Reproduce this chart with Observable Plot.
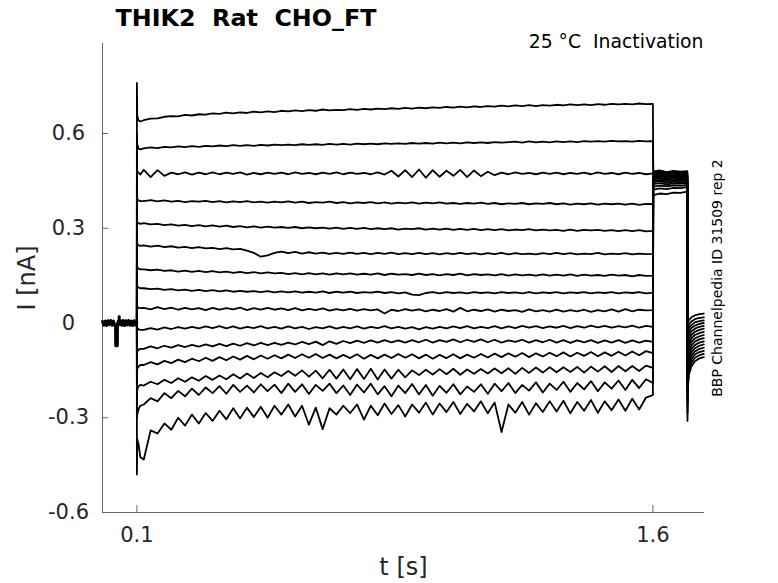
<!DOCTYPE html>
<html><head><meta charset="utf-8">
<script src="https://cdn.jsdelivr.net/npm/d3@7"></script>
<script src="https://cdn.jsdelivr.net/npm/@observablehq/plot@0.6"></script>
<style>
body{margin:0;background:#fff;}
svg text{white-space:pre;}
</style></head><body><div id="chart"></div>
<script>
// ---- data (time in ms, current in pA) ----
const titleText = "THIK2  Rat  CHO_FT";
const subtitleText = "25 °C  Inactivation";
const noteText = "BBP Channelpedia ID 31509 rep 2";
const xLabel = "t [s]";
const yLabel = "I [nA]";
const xTicks = [0.1, 1.6];
const yTicks = [-0.6, -0.3, 0, 0.3, 0.6];
const xDomain = [0, 1.75];
const yDomain = [-0.6, 0.885];

const holdT = [0,4,8,12,16,20,24,28,32,36,38,38.5,43,43.5,46,48,48.5,49.5,52,56,60,64,68,72,76,80,84,88,92,96,99.8];
const holdI = [5,-7,6,-8,7,-5,8,-7,6,-9,-5,-72,-72,-6,6,-4,20,-5,7,-7,8,-8,7,-6,8,-7,6,-8,7,-6,0];

const onsetT = [100, 101, 105, 110];
const onsetI = [
  [760, 655, 641, 638],
  [600, 565, 552, 550],
  [520, 480, 476, 470],
  [420, 392, 388, 386],
  [340, 318, 316, 314],
  [270, 250, 246, 244],
  [200, 176, 172, 170],
  [140, 116, 112, 110],
  [70, 52, 48, 47],
  [-30, -15, -20, -22],
  [-100, -90, -85, -82],
  [-160, -145, -138, -133],
  [-240, -210, -200, -196],
  [-300, -290, -272, -262],
  [-480, -368, -385, -425]
];

const stepT = [120,140,160,180,200,220,240,260,280,300,
  320,340,360,380,400,420,440,460,480,500,
  520,540,560,580,600,620,640,660,680,700,
  720,740,760,780,800,820,840,860,880,900,
  920,940,960,980,1000,1020,1040,1060,1080,1100,
  1120,1140,1160,1180,1200,1220,1240,1260,1280,1300,
  1320,1340,1360,1380,1400,1420,1440,1460,1480,1500,
  1520,1540,1560,1580,1600];

const stepI = [
  [642,647,648,653,655,654,659,657,661,660,
   664,662,666,664,667,665,669,667,670,668,
   672,670,673,671,674,672,676,673,675,674,
   677,675,678,676,679,677,680,678,681,679,
   682,680,683,681,684,682,685,683,686,684,
   687,685,688,686,689,687,690,687,690,688,
   691,689,692,690,692,690,693,691,694,692,
   694,692,695,693,694],
  [553,556,554,558,556,559,557,560,558,561,
   559,562,560,563,561,563,561,564,562,565,
   563,565,563,566,564,566,564,567,565,567,
   565,568,566,568,566,569,567,569,567,570,
   568,570,568,571,569,571,569,572,570,572,
   570,573,571,573,574,571,575,572,574,572,
   575,573,575,573,576,574,576,574,577,575,
   576,574,577,575,576],
  [485,462,484,466,476,471,477,470,476,471,
   477,471,476,472,477,470,475,471,476,472,
   476,471,477,472,475,471,476,472,477,471,
   476,472,475,471,477,470,482,464,484,462,
   486,460,484,463,482,466,485,462,483,465,
   479,468,476,471,477,472,475,471,476,472,
   476,471,475,472,476,471,477,472,475,471,
   476,472,475,471,474],
  [386,389,385,388,384,387,383,386,384,387,
   383,386,382,385,383,386,382,384,381,384,
   382,385,381,384,380,383,381,384,380,383,
   379,382,380,383,379,382,378,381,379,382,
   378,381,379,382,378,380,377,380,378,381,
   377,380,376,379,377,380,376,379,377,380,
   376,379,375,378,376,379,375,378,376,378,
   375,378,374,377,376],
  [316,312,314,310,312,308,311,307,310,306,
   309,305,308,304,307,303,306,302,305,302,
   304,301,304,300,303,300,302,299,302,298,
   301,298,301,297,300,297,300,296,299,297,
   300,296,299,296,299,295,298,295,298,294,
   297,294,297,293,296,294,297,293,296,293,
   295,292,296,292,295,293,295,292,294,291,
   294,291,294,290,292],
  [246,242,245,240,243,239,241,237,240,236,
   238,234,237,233,235,229,222,210,214,222,
   226,221,225,220,224,220,223,219,222,219,
   223,219,222,218,222,219,223,218,221,218,
   222,218,221,217,221,218,222,218,221,217,
   221,218,222,217,221,218,220,217,221,218,
   222,218,221,217,220,218,222,217,220,218,
   221,217,220,218,219],
  [170,167,169,165,167,163,166,162,165,161,
   164,160,163,159,162,158,161,157,160,157,
   159,155,158,154,158,154,157,153,157,154,
   157,153,156,153,157,152,156,153,155,152,
   156,152,155,151,155,152,156,151,155,152,
   154,151,155,150,154,151,153,150,154,150,
   153,150,154,149,153,150,152,149,153,150,
   152,148,152,149,150],
  [110,107,109,105,107,103,106,102,105,101,
   104,100,103,99,102,99,101,98,101,97,
   100,97,100,96,99,96,100,95,99,96,
   99,95,98,96,99,95,98,94,97,90,
   88,95,98,94,98,95,97,94,98,95,
   97,94,98,95,97,94,98,94,97,95,
   98,94,97,95,98,94,97,95,98,94,
   97,95,98,94,96],
  [48,43,50,44,49,42,48,43,47,41,
   48,42,47,43,49,41,47,42,48,42,
   46,41,47,40,45,41,46,39,44,40,
   45,39,44,40,43,30,42,38,44,39,
   43,37,42,38,44,36,48,37,42,38,
   43,36,42,38,41,35,43,37,41,36,
   42,36,41,37,42,35,41,37,43,36,
   44,37,42,40,41],
  [-22,-16,-21,-14,-19,-13,-18,-12,-17,-11,
   -16,-10,-17,-11,-18,-12,-16,-10,-17,-12,
   -18,-11,-17,-12,-19,-13,-17,-11,-18,-12,
   -17,-11,-18,-12,-16,-10,-17,-12,-18,-13,
   -20,-13,-18,-12,-17,-11,-16,-10,-17,-12,
   -16,-10,-17,-11,-16,-9,-15,-10,-16,-11,
   -15,-9,-16,-10,-15,-8,-14,-9,-15,-10,
   -14,-8,-15,-9,-12],
  [-82,-74,-80,-72,-78,-70,-76,-69,-75,-68,
   -74,-66,-73,-65,-72,-64,-71,-63,-70,-63,
   -69,-62,-68,-60,-67,-59,-70,-58,-66,-57,
   -64,-56,-63,-55,-62,-54,-61,-55,-62,-54,
   -61,-53,-62,-54,-60,-52,-61,-53,-60,-52,
   -61,-53,-62,-55,-60,-53,-62,-54,-61,-53,
   -62,-54,-63,-55,-61,-54,-63,-55,-62,-54,
   -63,-55,-62,-56,-60],
  [-133,-124,-131,-120,-127,-116,-124,-113,-121,-110,
   -120,-108,-118,-106,-116,-104,-115,-103,-113,-102,
   -112,-100,-111,-99,-110,-98,-111,-100,-112,-101,
   -111,-99,-113,-101,-112,-100,-111,-98,-110,-99,
   -112,-100,-113,-101,-111,-99,-112,-100,-110,-98,
   -109,-97,-108,-96,-107,-95,-108,-96,-106,-94,
   -105,-93,-106,-94,-104,-92,-105,-93,-104,-91,
   -103,-90,-102,-89,-95],
  [-198,-186,-194,-180,-190,-175,-186,-172,-183,-168,
   -180,-166,-178,-162,-176,-160,-174,-158,-172,-156,
   -168,-152,-167,-150,-170,-151,-175,-148,-176,-147,
   -178,-146,-177,-145,-179,-147,-176,-148,-172,-150,
   -165,-148,-163,-146,-162,-145,-164,-147,-161,-146,
   -160,-144,-159,-143,-161,-142,-158,-141,-157,-140,
   -156,-140,-155,-139,-157,-138,-154,-137,-155,-136,
   -153,-136,-152,-135,-142],
  [-258,-238,-248,-222,-238,-215,-232,-208,-228,-204,
   -222,-200,-224,-196,-218,-198,-220,-194,-216,-195,
   -222,-192,-218,-194,-225,-196,-215,-192,-222,-198,
   -228,-195,-220,-192,-226,-200,-232,-198,-222,-193,
   -226,-196,-230,-199,-221,-194,-226,-201,-218,-194,
   -224,-192,-216,-190,-222,-196,-214,-188,-220,-192,
   -212,-186,-218,-190,-210,-184,-216,-188,-208,-182,
   -212,-180,-206,-178,-190],
  [-432,-340,-350,-318,-338,-300,-325,-290,-318,-285,
   -310,-278,-305,-270,-302,-268,-298,-265,-300,-262,
   -290,-258,-296,-262,-322,-268,-336,-270,-290,-262,
   -285,-258,-306,-262,-292,-255,-288,-260,-296,-258,
   -284,-252,-290,-255,-282,-250,-288,-256,-280,-248,
   -286,-252,-345,-258,-284,-250,-290,-254,-282,-248,
   -280,-246,-286,-250,-278,-244,-284,-248,-276,-242,
   -278,-240,-274,-236,-228]
];

const tailT = [1601, 1620, 1640, 1660, 1680, 1700];
const tailI = [
  [480,483,478,482,479,481],
  [476,479,474,478,475,477],
  [473,476,471,475,472,474],
  [470,473,468,472,469,471],
  [468,470,465,469,466,468],
  [465,468,463,466,464,466],
  [462,465,460,464,461,463],
  [458,461,457,460,458,460],
  [455,458,453,457,454,456],
  [450,453,449,452,450,452],
  [446,449,444,448,445,447],
  [440,443,439,442,441,443],
  [432,435,433,436,434,437],
  [422,426,424,428,427,430],
  [405,410,408,413,412,416]
];

const offT = [1700.5, 1702, 1705, 1712, 1722, 1735, 1748];
const offI = [
  [-20,2,10,18,24,28,30],
  [-40,-15,-4,5,12,16,18],
  [-60,-30,-16,-6,2,6,8],
  [-80,-44,-28,-16,-8,-3,0],
  [-100,-58,-40,-27,-18,-12,-9],
  [-120,-72,-52,-38,-28,-22,-18],
  [-140,-86,-64,-49,-38,-32,-28],
  [-160,-100,-76,-60,-49,-42,-38],
  [-180,-114,-88,-71,-59,-52,-48],
  [-200,-128,-100,-82,-70,-62,-58],
  [-220,-142,-112,-93,-80,-72,-68],
  [-240,-156,-124,-104,-90,-82,-78],
  [-260,-170,-136,-115,-100,-92,-88],
  [-285,-184,-148,-126,-110,-102,-98],
  [-310,-200,-162,-138,-121,-112,-108]
];

// ---- build rows ----
const holdRows = holdT.map((t, j) => ({t: t / 1000, i: holdI[j] / 1000}));
const rows = [];
for (let k = 0; k < stepI.length; k++) {
  const push = (ts, vs) => ts.forEach((t, j) => { if (vs[j] != null) rows.push({k, t: t / 1000, i: vs[j] / 1000}); });
  push([holdT[holdT.length - 1]], [holdI[holdI.length - 1]]);
  push(onsetT, onsetI[k]);
  push(stepT, stepI[k]);
  push(tailT, tailI[k]);
  push(offT, offI[k]);
}

const fmt = d => String(d);
const axisColor = "#666";
const textColor = "#262626";
const W = 778, H = 583, mL = 102, mR = 74, mT = 43, mB = 71;
const plotW = W - mL - mR, plotH = H - mT - mB;

const chart = Plot.plot({
  width: W, height: H,
  marginLeft: mL, marginRight: mR, marginTop: mT, marginBottom: mB,
  x: {domain: xDomain, axis: null},
  y: {domain: yDomain, axis: null},
  style: {fontFamily: "DejaVu Sans", background: "white", overflow: "visible"},
  marks: [
    Plot.ruleX([xDomain[0]], {stroke: axisColor, strokeWidth: 1}),
    Plot.ruleY([yDomain[0]], {stroke: axisColor, strokeWidth: 1}),
    Plot.tickY(yTicks, {y: d => d, stroke: axisColor, insetRight: plotW - 6}),
    Plot.tickX(xTicks, {x: d => d, stroke: axisColor, insetTop: plotH - 7}),
    Plot.text(yTicks, {y: d => d, text: fmt, frameAnchor: "left", dx: -34, textAnchor: "middle", lineAnchor: "middle", fontSize: 21, fill: textColor}),
    Plot.text(xTicks, {x: d => d, text: fmt, frameAnchor: "bottom", dy: 23, textAnchor: "middle", lineAnchor: "middle", fontSize: 21, fill: textColor}),
    Plot.text([yLabel], {frameAnchor: "left", dx: -75, rotate: -90, textAnchor: "middle", lineAnchor: "middle", fontSize: 24, fill: textColor}),
    Plot.text([xLabel], {frameAnchor: "bottom", dy: 55, textAnchor: "middle", lineAnchor: "middle", fontSize: 24, fill: textColor}),
    Plot.text([titleText], {frameAnchor: "top-left", dx: 13, dy: -25, textAnchor: "start", lineAnchor: "middle", fontSize: 23.8, fontWeight: "bold", fill: "#000"}),
    Plot.text([subtitleText], {frameAnchor: "top-right", dx: -1, dy: -2, textAnchor: "end", lineAnchor: "middle", fontSize: 18.8, fill: "#000"}),
    Plot.text([noteText], {frameAnchor: "right", dx: 13, rotate: -90, textAnchor: "middle", lineAnchor: "middle", fontSize: 14, fill: "#000"}),
    Plot.line(holdRows, {x: "t", y: "i", stroke: "#000", strokeWidth: 3}),
    Plot.line(rows, {x: "t", y: "i", z: "k", stroke: "#000", strokeWidth: 1.8, strokeLinejoin: "round"})
  ]
});
document.getElementById("chart").appendChild(chart);
</script></body></html>
